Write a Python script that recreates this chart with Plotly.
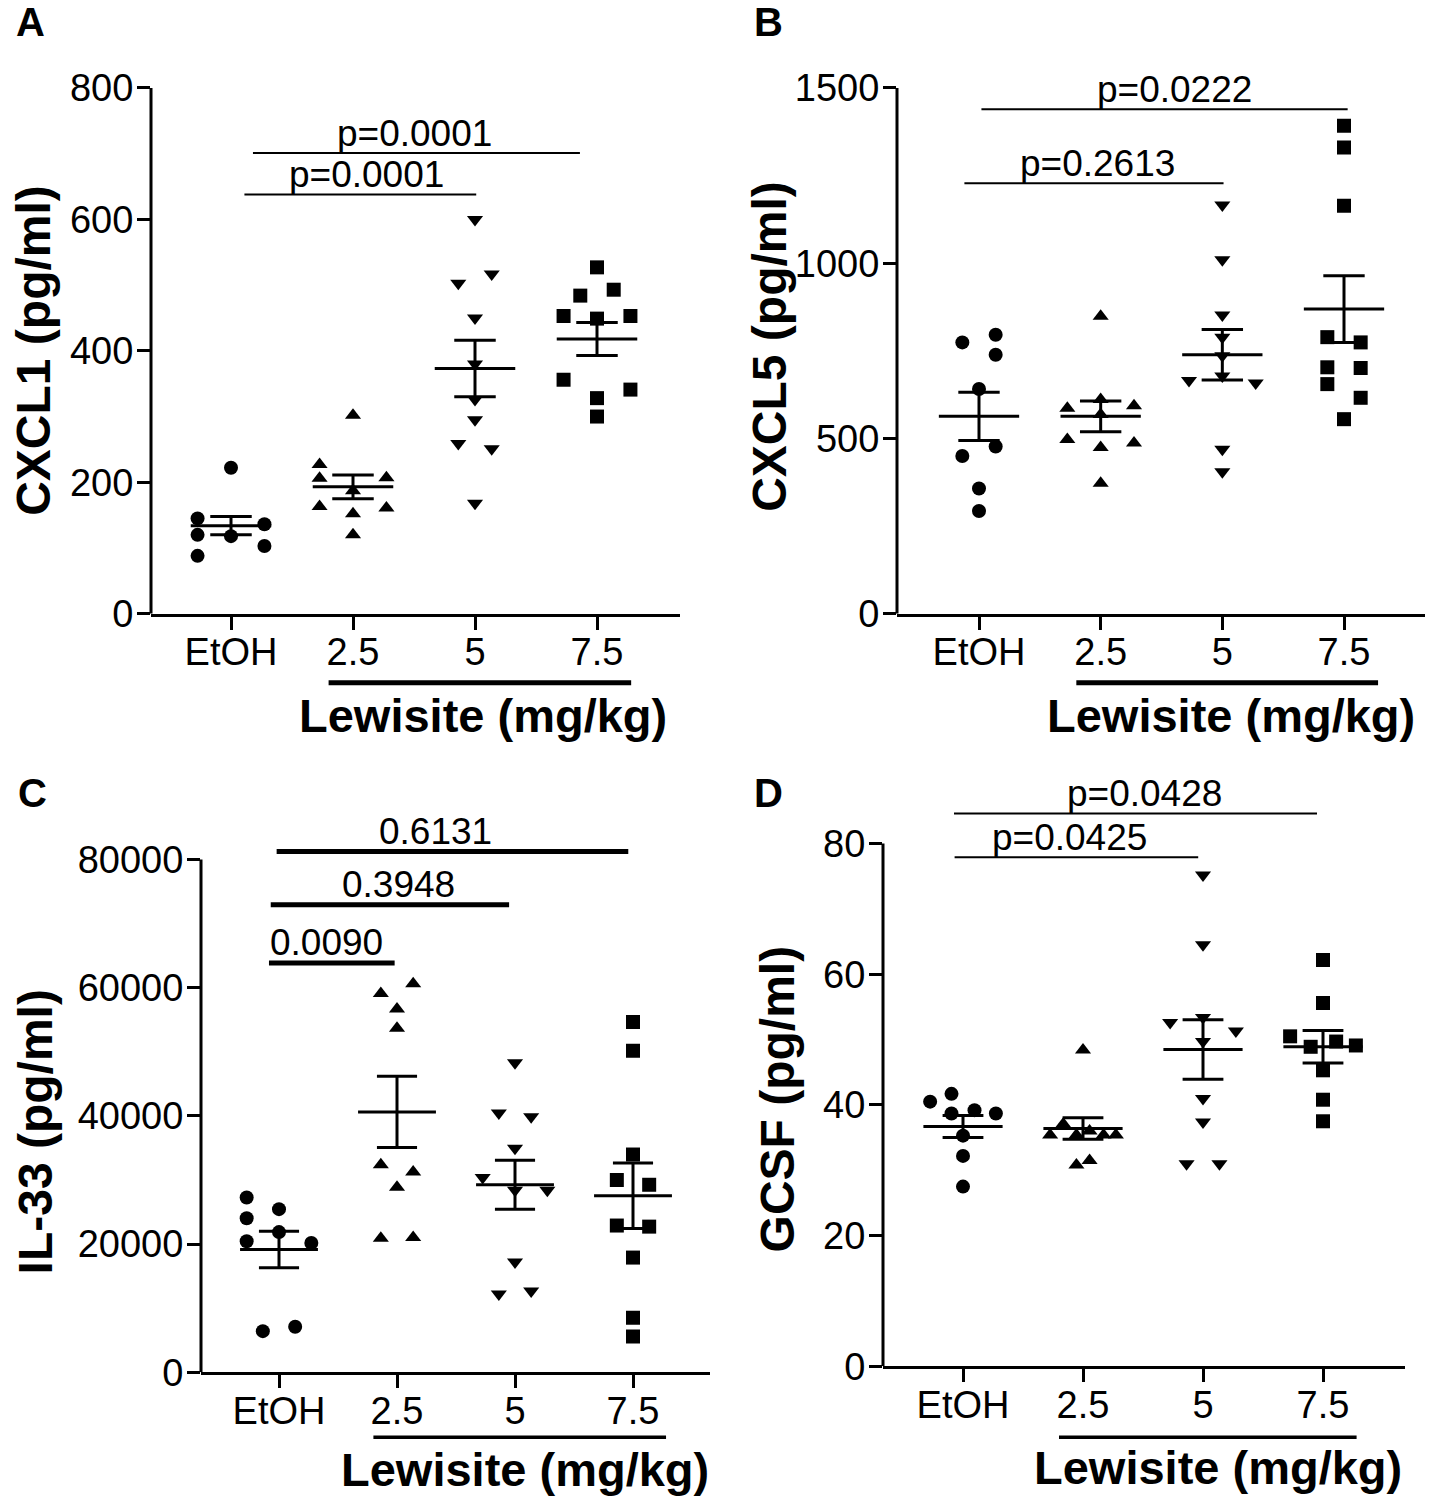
import plotly.graph_objects as go

W, H = 1430, 1500
# the photographed page comes out slightly compressed vertically; positions are
# laid out against the effective drawn height
HEFF = H * 0.9865
FONT = "Liberation Sans, Arial, Helvetica, sans-serif"

categories = ["EtOH", "2.5", "5", "7.5"]
symbols = ["circle", "triangle-up", "triangle-down", "square"]

# ---------------- Panel A : CXCL1 ----------------
cxcl1_vals = [
    [222, 145, 120, 88, 118, 136, 103],
    [302, 227, 206, 207, 187, 163, 161, 152, 120],
    [600, 503, 517, 450, 380, 326, 295, 259, 251, 168],
    [527, 484, 493, 453, 449, 453, 356, 341, 328, 300],
]
cxcl1_lanes = [
    [0, -2, -2, -2, 0, 2, 2],
    [0, -2, -2, 2, 0, -2, 2, 0, 0],
    [0, -1, 1, 0, 0, 0, 0, -1, 1, 0],
    [0, -1, 1, -2, 0, 2, -2, 2, 0, 0],
]
cxcl1_mean = [134, 193, 373, 418]
cxcl1_sem = [14, 18, 43, 25]
cxcl1_sig_level = [701, 638]
cxcl1_sig_from = [0.18, 0.11]
cxcl1_sig_to = [2.86, 2.01]
cxcl1_sig_text = ["p=0.0001", "p=0.0001"]
cxcl1_sig_textx = [1.50, 1.11]

# ---------------- Panel B : CXCL5 ----------------
cxcl5_vals = [
    [774, 796, 739, 641, 477, 450, 357, 293],
    [849, 586, 593, 611, 568, 497, 487, 474, 372],
    [1166, 1010, 852, 789, 736, 678, 665, 658, 469, 405],
    [1392, 1330, 1164, 789, 774, 703, 701, 655, 616, 555],
]
cxcl5_lanes = [
    [-1, 1, 1, 0, 1, -1, 0, 0],
    [0, -2, 2, 0, 0, -2, 2, 0, 0],
    [0, 0, 0, 0, 0, 0, -2, 2, 0, 0],
    [0, 0, 0, -1, 1, -1, 1, -1, 1, 0],
]
cxcl5_mean = [563, 563, 739, 869]
cxcl5_sem = [69, 44, 72, 95]
cxcl5_sig_level = [1439, 1228]
cxcl5_sig_from = [0.02, -0.12]
cxcl5_sig_to = [3.03, 2.01]
cxcl5_sig_text = ["p=0.0222", "p=0.2613"]
cxcl5_sig_textx = [1.61, 0.97]

# ---------------- Panel C : IL-33 ----------------
il33_vals = [
    [27270, 25455, 24035, 21875, 20455, 20170, 6420, 7100],
    [60630, 59090, 56700, 53690, 32390, 31250, 28865, 20910, 21020],
    [48300, 40455, 39890, 34945, 30400, 28410, 28410, 17215, 12215, 12670],
    [54660, 50170, 33980, 30000, 29260, 22900, 22730, 17900, 8520, 5570],
]
il33_lanes = [
    [-2, 0, -2, 0, -2, 2, -1, 1],
    [1, -1, 0, 0, -1, 1, 0, -1, 1],
    [0, -1, 1, 0, -2, 0, 2, 0, -1, 1],
    [0, 0, 0, -1, 1, -1, 1, 0, 0, 0],
]
il33_mean = [19150, 40630, 29260, 27560]
il33_sem = [2840, 5570, 3835, 5115]
il33_sig_level = [81250, 72960, 63865]
il33_sig_from = [-0.02, -0.07, -0.085]
il33_sig_to = [2.96, 1.95, 0.98]
il33_sig_text = ["0.6131", "0.3948", "0.0090"]
il33_sig_textx = [1.33, 1.01, 0.40]

# ---------------- Panel D : GCSF ----------------
gcsf_vals = [
    [40.5, 41.7, 39.2, 38.7, 38.7, 35.3, 32.2, 27.5],
    [48.4, 37.1, 35.4, 35.4, 36.0, 35.4, 35.4, 30.8, 31.5],
    [75.2, 64.5, 52.6, 53.4, 51.3, 49.7, 41.0, 37.4, 31.0, 31.0],
    [62.2, 55.6, 50.5, 49.7, 49.1, 48.9, 45.3, 40.8, 37.5],
]
gcsf_lanes = [
    [-2, -0.7, 0.7, 2, -0.7, 0, 0, 0],
    [0, -1.2, -2, -0.4, 0.4, 1.25, 2, -0.4, 0.4],
    [0, 0, -2, 0, 2, 0, 0, 0, -1, 1],
    [0, 0, -2, 0.8, 2, -0.75, 0, 0, 0],
]
gcsf_mean = [36.7, 36.4, 48.5, 48.9]
gcsf_sem = [1.7, 1.65, 4.55, 2.5]
gcsf_sig_level = [84.6, 77.9]
gcsf_sig_from = [-0.075, -0.07]
gcsf_sig_to = [2.95, 1.96]
gcsf_sig_text = ["p=0.0428", "p=0.0425"]
gcsf_sig_textx = [1.51, 0.89]

# ---------------- layout geometry (pixels) ----------------
panels = [
    dict(letter="A", ytitle="CXCL1 (pg/ml)", vals=cxcl1_vals, lanes=cxcl1_lanes,
         mean=cxcl1_mean, sem=cxcl1_sem, sl=cxcl1_sig_level, sf=cxcl1_sig_from,
         st=cxcl1_sig_to, stxt=cxcl1_sig_text, stx=cxcl1_sig_textx, sigw=2,
         xl=151, xr=680, c0=231, c3=597, yb=614, yt=88, ymax=800, dtick=200,
         letter_xy=(30, 22), title_xy=(34, 351), xt_xy=(483, 716), ul_y=683, ulw=5),
    dict(letter="B", ytitle="CXCL5 (pg/ml)", vals=cxcl5_vals, lanes=cxcl5_lanes,
         mean=cxcl5_mean, sem=cxcl5_sem, sl=cxcl5_sig_level, sf=cxcl5_sig_from,
         st=cxcl5_sig_to, stxt=cxcl5_sig_text, stx=cxcl5_sig_textx, sigw=2,
         xl=897, xr=1425, c0=979, c3=1344, yb=614, yt=88, ymax=1500, dtick=500,
         letter_xy=(768, 22), title_xy=(770, 347), xt_xy=(1231, 716), ul_y=683, ulw=5),
    dict(letter="C", ytitle="IL-33 (pg/ml)", vals=il33_vals, lanes=il33_lanes,
         mean=il33_mean, sem=il33_sem, sl=il33_sig_level, sf=il33_sig_from,
         st=il33_sig_to, stxt=il33_sig_text, stx=il33_sig_textx, sigw=5,
         xl=201, xr=710, c0=279, c3=633, yb=1373, yt=860, ymax=80000, dtick=20000,
         letter_xy=(32, 793), title_xy=(35, 1133), xt_xy=(525, 1470), ul_y=1438, ulw=3.5),
    dict(letter="D", ytitle="GCSF (pg/ml)", vals=gcsf_vals, lanes=gcsf_lanes,
         mean=gcsf_mean, sem=gcsf_sem, sl=gcsf_sig_level, sf=gcsf_sig_from,
         st=gcsf_sig_to, stxt=gcsf_sig_text, stx=gcsf_sig_textx, sigw=2,
         xl=883, xr=1405, c0=963, c3=1323, yb=1367, yt=844, ymax=80, dtick=20,
         letter_xy=(768, 793), title_xy=(777, 1100), xt_xy=(1218, 1468), ul_y=1438, ulw=3.5),
]

LANE = 0.137      # horizontal spacing of scatter lanes (category units)
MEAN_HW = 0.33    # half width of mean line
CAP_HW = 0.17     # half width of SEM caps
EXT = 1.12        # headroom above top tick for comparison bars
TICK_SIZE = 38
TITLE_SIZE = 48


def py(px):
    """paper y from a pixel row of the layout"""
    return 1 - px / HEFF


fig = go.Figure()
annotations = []
shapes = []
layout_axes = {}

for k, p in enumerate(panels):
    n = k + 1
    xa = "x" if n == 1 else f"x{n}"
    ya = "y" if n == 1 else f"y{n}"
    ppc = (p["c3"] - p["c0"]) / 3.0
    xr = [(p["xl"] - p["c0"]) / ppc, (p["xr"] - p["c0"]) / ppc]
    ytop_px = p["yb"] - (p["yb"] - p["yt"]) * EXT

    # points
    for g in range(4):
        xs = [g + l * LANE for l in p["lanes"][g]]
        fig.add_trace(go.Scatter(
            x=xs, y=p["vals"][g], mode="markers", xaxis=xa, yaxis=ya,
            marker=dict(symbol=symbols[g], color="black", size=14,
                        line=dict(width=0)),
            showlegend=False, hoverinfo="y"))

    # mean lines and SEM bars
    mx, my = [], []
    for g in range(4):
        m, s = p["mean"][g], p["sem"][g]
        mx += [g - MEAN_HW, g + MEAN_HW, None]
        my += [m, m, None]
        mx += [g, g, None, g - CAP_HW, g + CAP_HW, None, g - CAP_HW, g + CAP_HW, None]
        my += [m - s, m + s, None, m + s, m + s, None, m - s, m - s, None]
    fig.add_trace(go.Scatter(x=mx, y=my, mode="lines", xaxis=xa, yaxis=ya,
                             line=dict(color="black", width=3),
                             showlegend=False, hoverinfo="skip"))

    # comparison bars
    bx, by = [], []
    for lvl, f, t in zip(p["sl"], p["sf"], p["st"]):
        bx += [f, t, None]
        by += [lvl, lvl, None]
    fig.add_trace(go.Scatter(x=bx, y=by, mode="lines", xaxis=xa, yaxis=ya,
                             line=dict(color="black", width=p["sigw"]),
                             showlegend=False, hoverinfo="skip"))
    for lvl, txt, tx in zip(p["sl"], p["stxt"], p["stx"]):
        annotations.append(dict(x=tx, y=lvl, xref=xa, yref=ya, text=txt,
                                showarrow=False, xanchor="center", yanchor="middle",
                                yshift=20, font=dict(family=FONT, size=37, color="black")))

    # y-axis line (stops at the top tick)
    shapes.append(dict(type="line", xref=f"{xa} domain", yref=ya, x0=0, x1=0,
                       y0=0, y1=p["ymax"], line=dict(color="black", width=3)))
    # underline for Lewisite doses
    shapes.append(dict(type="line", xref=xa, yref="paper",
                       x0=0.80, x1=3.28, y0=py(p["ul_y"]), y1=py(p["ul_y"]),
                       line=dict(color="black", width=p["ulw"])))

    # texts
    annotations.append(dict(x=p["xt_xy"][0] / W, y=py(p["xt_xy"][1]), xref="paper", yref="paper",
                            text="<b>Lewisite (mg/kg)</b>", showarrow=False,
                            xanchor="center", yanchor="middle",
                            font=dict(family=FONT, size=47, color="black")))
    annotations.append(dict(x=p["title_xy"][0] / W, y=py(p["title_xy"][1]), xref="paper", yref="paper",
                            text=f"<b>{p['ytitle']}</b>", showarrow=False, textangle=-90,
                            xanchor="center", yanchor="middle",
                            font=dict(family=FONT, size=TITLE_SIZE, color="black")))
    annotations.append(dict(x=p["letter_xy"][0] / W, y=py(p["letter_xy"][1]), xref="paper", yref="paper",
                            text=f"<b>{p['letter']}</b>", showarrow=False,
                            xanchor="center", yanchor="middle",
                            font=dict(family=FONT, size=40, color="black")))

    xkey = "xaxis" if n == 1 else f"xaxis{n}"
    ykey = "yaxis" if n == 1 else f"yaxis{n}"
    layout_axes[xkey] = dict(
        domain=[p["xl"] / W, p["xr"] / W], anchor=ya, range=xr,
        tickmode="array", tickvals=[0, 1, 2, 3], ticktext=categories,
        showline=True, linewidth=3, linecolor="black", ticks="outside",
        ticklen=13, tickwidth=3, tickcolor="black", showgrid=False, zeroline=False,
        ticklabelstandoff=-10,
        tickfont=dict(family=FONT, size=TICK_SIZE, color="black"), fixedrange=True)
    layout_axes[ykey] = dict(
        domain=[py(p["yb"]), py(ytop_px)], anchor=xa,
        range=[0, p["ymax"] * EXT],
        tickmode="array", tickvals=[p["dtick"] * i for i in range(5)],
        ticktext=[str(p["dtick"] * i) for i in range(5)],
        showline=False, ticks="outside", ticklen=13, tickwidth=3, tickcolor="black",
        showgrid=False, zeroline=False, ticklabelstandoff=-4,
        tickfont=dict(family=FONT, size=TICK_SIZE, color="black"), fixedrange=True)

fig.update_layout(
    width=W, height=H, margin=dict(l=0, r=0, t=0, b=0),
    paper_bgcolor="white", plot_bgcolor="white",
    showlegend=False, annotations=annotations, shapes=shapes,
    font=dict(family=FONT, color="black"),
    **layout_axes)

fig.write_html(
    "out.html",
    config={"displayModeBar": False},
    post_script="document.body.style.margin='0';document.body.style.overflow='hidden';"
                "document.documentElement.style.overflow='hidden';",
)
